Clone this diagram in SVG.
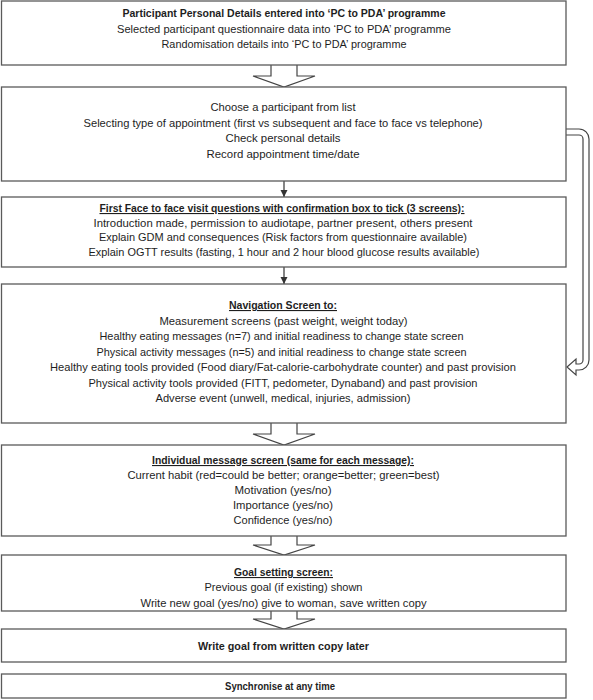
<svg xmlns="http://www.w3.org/2000/svg" width="593" height="700" viewBox="0 0 593 700">
<defs>
<style>
.box{fill:#fff;stroke:#5a5a5a;stroke-width:1.3}
.t{font-family:"Liberation Sans",Arial,sans-serif;font-size:11px;fill:#1e1e1e;text-anchor:middle}
.b{font-weight:bold}
.u{text-decoration:underline}
.hol{fill:#fff;stroke:#444;stroke-width:1.2;stroke-linejoin:miter}
.ln{stroke:#333;stroke-width:1.2;fill:none}
</style>
<marker id="ah" markerUnits="userSpaceOnUse" markerWidth="8" markerHeight="8" refX="7" refY="4" orient="auto">
<path d="M0,0.5 L7,4 L0,7.5 Z" fill="#333"/>
</marker>
</defs>
<rect width="593" height="700" fill="#fff"/>

<g id="connectors">
<path class="hol" d="M271,65 V76 H253 L284,87 L315,76 H297 V65"/>
<line class="ln" x1="284" y1="181" x2="284" y2="197" marker-end="url(#ah)"/>
<line class="ln" x1="284" y1="267" x2="284" y2="284" marker-end="url(#ah)"/>
<path class="hol" d="M271,423 V434 H253 L284,445 L315,434 H297 V423"/>
<path class="hol" d="M271,536 V545 H253 L284,555 L315,545 H297 V536"/>
<path class="hol" d="M271,611 V619 H253 L284,629 L315,619 H297 V611"/>
<path class="hol" d="M566,129 H579 A10,10 0 0 1 589,139 V360 A10,10 0 0 1 579,370 H576 V375 L567,367 L576,359 V364 H579 A4,4 0 0 0 583,360 V139 A4,4 0 0 0 579,135 H566"/>
</g>

<g id="n1">
<rect class="box" x="1.5" y="1" width="564.5" height="64"/>
<text class="t b" x="284" y="17" textLength="323" lengthAdjust="spacingAndGlyphs">Participant Personal Details entered into ‘PC to PDA’ programme</text>
<text class="t" x="284" y="32.5" textLength="334" lengthAdjust="spacingAndGlyphs">Selected participant questionnaire data into ‘PC to PDA’ programme</text>
<text class="t" x="284" y="48" textLength="245" lengthAdjust="spacingAndGlyphs">Randomisation details into ‘PC to PDA’ programme</text>
</g>

<g id="n2">
<rect class="box" x="1.5" y="87" width="564.5" height="94"/>
<text class="t" x="283" y="111" textLength="145" lengthAdjust="spacingAndGlyphs">Choose a participant from list</text>
<text class="t" x="283" y="126.5" textLength="399" lengthAdjust="spacingAndGlyphs">Selecting type of appointment (first vs subsequent and face to face vs telephone)</text>
<text class="t" x="283" y="142" textLength="115" lengthAdjust="spacingAndGlyphs">Check personal details</text>
<text class="t" x="283" y="157.5" textLength="153" lengthAdjust="spacingAndGlyphs">Record appointment time/date</text>
</g>

<g id="n3">
<rect class="box" x="1.5" y="197" width="564.5" height="70"/>
<text class="t b u" x="282" y="212" textLength="365" lengthAdjust="spacingAndGlyphs">First Face to face visit questions with confirmation box to tick (3 screens):</text>
<text class="t" x="283" y="226.5" textLength="379" lengthAdjust="spacingAndGlyphs">Introduction made, permission to audiotape, partner present, others present</text>
<text class="t" x="283" y="241" textLength="368" lengthAdjust="spacingAndGlyphs">Explain GDM and consequences (Risk factors from questionnaire available)</text>
<text class="t" x="284" y="255.5" textLength="391" lengthAdjust="spacingAndGlyphs">Explain OGTT results (fasting, 1 hour and 2 hour blood glucose results available)</text>
</g>

<g id="n4">
<rect class="box" x="1.5" y="284" width="564.5" height="139"/>
<text class="t b u" x="283" y="309" textLength="108" lengthAdjust="spacingAndGlyphs">Navigation Screen to:</text>
<text class="t" x="283.5" y="324.5" textLength="248" lengthAdjust="spacingAndGlyphs">Measurement screens (past weight, weight today)</text>
<text class="t" x="281.5" y="340" textLength="364" lengthAdjust="spacingAndGlyphs">Healthy eating messages (n=7) and initial readiness to change state screen</text>
<text class="t" x="281.5" y="355.5" textLength="370" lengthAdjust="spacingAndGlyphs">Physical activity messages (n=5) and initial readiness to change state screen</text>
<text class="t" x="283" y="371" textLength="466" lengthAdjust="spacingAndGlyphs">Healthy eating tools provided (Food diary/Fat-calorie-carbohydrate counter) and past provision</text>
<text class="t" x="283" y="386.5" textLength="389" lengthAdjust="spacingAndGlyphs">Physical activity tools provided (FITT, pedometer, Dynaband) and past provision</text>
<text class="t" x="283" y="402" textLength="255" lengthAdjust="spacingAndGlyphs">Adverse event (unwell, medical, injuries, admission)</text>
</g>

<g id="n5">
<rect class="box" x="1.5" y="445" width="564.5" height="91"/>
<text class="t b u" x="283" y="464" textLength="262" lengthAdjust="spacingAndGlyphs">Individual message screen (same for each message):</text>
<text class="t" x="283.5" y="479" textLength="312" lengthAdjust="spacingAndGlyphs">Current habit (red=could be better; orange=better; green=best)</text>
<text class="t" x="283" y="494" textLength="97" lengthAdjust="spacingAndGlyphs">Motivation (yes/no)</text>
<text class="t" x="283" y="509" textLength="100" lengthAdjust="spacingAndGlyphs">Importance (yes/no)</text>
<text class="t" x="283" y="524" textLength="99" lengthAdjust="spacingAndGlyphs">Confidence (yes/no)</text>
</g>

<g id="n6">
<rect class="box" x="1.5" y="555" width="564.5" height="56"/>
<text class="t b u" x="283.5" y="576" textLength="99" lengthAdjust="spacingAndGlyphs">Goal setting screen:</text>
<text class="t" x="283.5" y="591" textLength="158" lengthAdjust="spacingAndGlyphs">Previous goal (if existing) shown</text>
<text class="t" x="283.5" y="606.5" textLength="286" lengthAdjust="spacingAndGlyphs">Write new goal (yes/no) give to woman, save written copy</text>
</g>

<g id="n7">
<rect class="box" x="1.5" y="629" width="564.5" height="33"/>
<text class="t b" x="283.5" y="649.5" textLength="171" lengthAdjust="spacingAndGlyphs">Write goal from written copy later</text>
</g>

<g id="n8">
<rect class="box" x="1.5" y="674" width="564.5" height="24"/>
<text class="t b" x="280" y="690" textLength="110" lengthAdjust="spacingAndGlyphs">Synchronise at any time</text>
</g>
</svg>
